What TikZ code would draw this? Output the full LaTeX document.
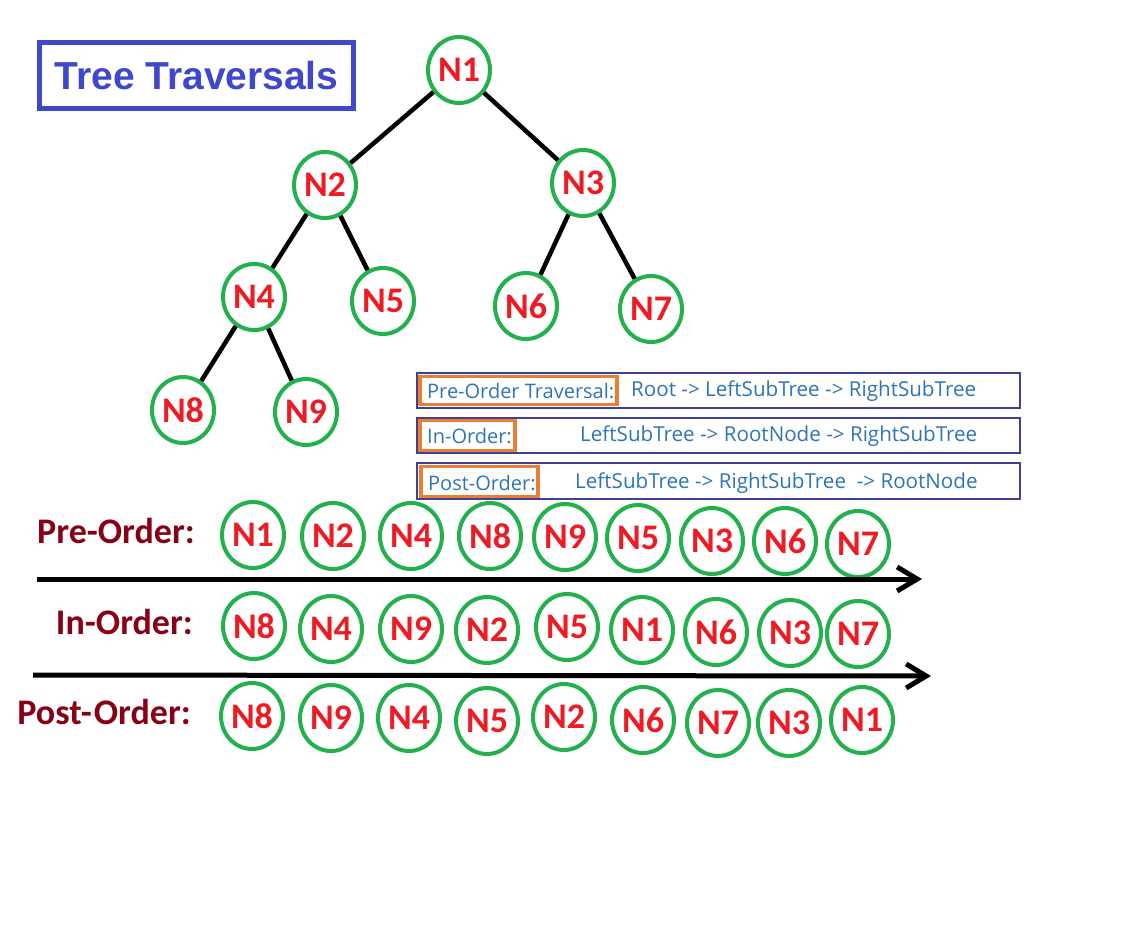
\documentclass[tikz,border=0pt]{standalone}
\usepackage{fontspec}
\usetikzlibrary{shapes.geometric,arrows.meta}
\newfontfamily\carlito{Carlito}
\newfontfamily\libsans{Liberation Sans}
\newfontfamily\opensans{Open Sans}
\definecolor{cgreen}{RGB}{34,177,76}
\definecolor{cred}{RGB}{237,28,36}
\definecolor{cdark}{RGB}{136,0,21}
\definecolor{ctitle}{RGB}{63,72,204}
\definecolor{ctext}{RGB}{46,117,182}
\definecolor{corange}{RGB}{237,125,49}
\definecolor{cframe}{RGB}{64,64,150}
\tikzset{
  tn/.style={ellipse, draw=cgreen, line width=4pt, minimum width=62pt, minimum height=66pt, inner sep=0pt,
    text=cred, font=\carlito\bfseries\fontsize{36}{40}\selectfont},
  edge/.style={line width=4.5pt, black},
  rowlabel/.style={anchor=east, inner sep=0pt, text=cdark, font=\carlito\bfseries\fontsize{36}{40}\selectfont},
  legbox/.style={draw=cframe, line width=1.3pt, minimum width=603pt, inner sep=0pt},
  orbox/.style={draw=corange, line width=3.2pt, inner sep=0pt},
  legtext/.style={anchor=west, inner sep=0pt, text=ctext, font=\opensans\fontsize{20}{24}\selectfont},
  legtextb/.style={legtext, font=\opensans\fontsize{20.6}{24}\selectfont},
  trav/.style={line width=5pt, black, -{Straight Barb[length=20pt,width=24pt]}}
}
\begin{document}
\begin{tikzpicture}[x=1pt,y=-1pt]
\useasboundingbox[fill=white] (0,0) rectangle (1126,929);
% title
\node[draw=ctitle, line width=5pt, minimum width=314pt, minimum height=66pt, inner sep=0pt,
  text=ctitle, font=\libsans\bfseries\fontsize{39}{44}\selectfont] (title) at (196.5,75.5) {Tree Traversals};
% tree
\node[tn] (n1) at (459,70) {N1};
\node[tn] (n2) at (325,185) {N2};
\node[tn] (n3) at (583,183) {N3};
\node[tn] (n4) at (254,297) {N4};
\node[tn] (n5) at (383,301) {N5};
\node[tn] (n6) at (526,306) {N6};
\node[tn] (n7) at (651,309) {N7};
\node[tn] (n8) at (183,410) {N8};
\node[tn] (n9) at (306,412) {N9};
\draw[edge] (n1) -- (n2);
\draw[edge] (n1) -- (n3);
\draw[edge] (n2) -- (n4);
\draw[edge] (n2) -- (n5);
\draw[edge] (n3) -- (n6);
\draw[edge] (n3) -- (n7);
\draw[edge] (n4) -- (n8);
\draw[edge] (n4) -- (n9);
% legend
\node[legbox, minimum height=35pt] (lb1) at (718.5,390.5) {};
\node[legbox, minimum height=35pt] (lb2) at (718.5,435.5) {};
\node[legbox, minimum height=36pt] (lb3) at (718.5,481) {};
\node[orbox, minimum width=197pt, minimum height=28pt] (ob1) at (518.5,390.5) {};
\node[orbox, minimum width=95pt, minimum height=30pt] (ob2) at (467.5,435.5) {};
\node[orbox, minimum width=117pt, minimum height=30pt] (ob3) at (479.5,481.5) {};
\node[legtext] (lt1a) at (427,391.5) {Pre-Order Traversal:};
\node[legtextb] (lt1b) at (631,391.5) {Root -> LeftSubTree -> RightSubTree};
\node[legtext] (lt2a) at (427,436.5) {In-Order:};
\node[legtextb] (lt2b) at (580,436.5) {LeftSubTree -> RootNode -> RightSubTree};
\node[legtext] (lt3a) at (428,483) {Post-Order:};
\node[legtextb] (lt3b) at (575,483) {LeftSubTree -> RightSubTree\ \ -> RootNode};
% row labels
\node[rowlabel] (l1) at (195,531) {Pre-Order:};
\node[rowlabel] (l2) at (193,622) {In-Order:};
\node[rowlabel] (l3) at (191,712) {Post-\kern2pt Order:};
% pre-order row
\node[tn] (p1) at (253,535) {N1};
\node[tn] (p2) at (333,536) {N2};
\node[tn] (p3) at (411,536) {N4};
\node[tn] (p4) at (490,536) {N8};
\node[tn] (p5) at (565,537) {N9};
\node[tn] (p6) at (638,538) {N5};
\node[tn] (p7) at (712,541) {N3};
\node[tn] (p8) at (785,541) {N6};
\node[tn] (p9) at (858,544) {N7};
% in-order row
\node[tn] (i1) at (254,626) {N8};
\node[tn] (i2) at (331,629) {N4};
\node[tn] (i3) at (411,629) {N9};
\node[tn] (i4) at (487,630) {N2};
\node[tn] (i5) at (567,627) {N5};
\node[tn] (i6) at (642,630) {N1};
\node[tn] (i7) at (716,632) {N6};
\node[tn] (i8) at (790,633) {N3};
\node[tn] (i9) at (858,634) {N7};
% post-order row
\node[tn] (q1) at (252,716) {N8};
\node[tn] (q2) at (331,718) {N9};
\node[tn] (q3) at (409,718) {N4};
\node[tn] (q4) at (487,721) {N5};
\node[tn] (q5) at (564,717) {N2};
\node[tn] (q6) at (643,720) {N6};
\node[tn] (q7) at (718,723) {N7};
\node[tn] (q8) at (789,723) {N3};
\node[tn] (q9) at (862,720) {N1};
% arrows
\coordinate (a1s) at (37,579);
\coordinate (a1e) at (922,579);
\coordinate (a2s) at (33,675);
\coordinate (a2e) at (931,676);
\draw[trav] (a1s) -- (a1e);
\draw[trav] (a2s) -- (a2e);
\end{tikzpicture}
\end{document}
